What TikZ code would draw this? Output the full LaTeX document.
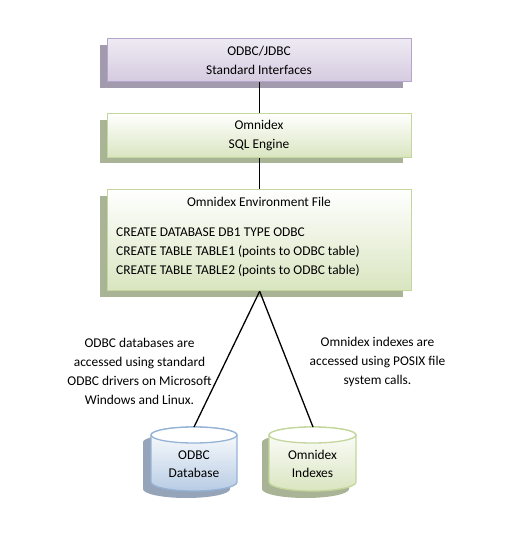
\documentclass[tikz,border=0pt]{standalone}
\usepackage{fontspec}
\setmainfont{Carlito}
\begin{document}
\begin{tikzpicture}[x=1pt,y=-1pt,
  boxbase/.style={rectangle,line width=1.3pt,inner sep=0pt,anchor=north west,shade,shading angle=0},
  purplebox/.style={boxbase,draw=purpleline,top color=white!60!purplefill,bottom color=purplefill},
  greenbox/.style={boxbase,draw=greenline,top color=white,bottom color=greenfill},
  labeltext/.style={font=\fontsize{13.4pt}{19pt}\selectfont,align=center,text=black,inner sep=0pt},
  bodytext/.style={font=\fontsize{13.4pt}{19pt}\selectfont,align=left,text=black,inner sep=0pt,anchor=west},
  link/.style={draw=black,line width=1.3pt},
  cyl/.style={line width=1.3pt}]
\definecolor{purplefill}{HTML}{D5CBE0}
\definecolor{purpleline}{HTML}{B5A5CC}
\definecolor{greenfill}{HTML}{D9E5C0}
\definecolor{greenline}{HTML}{C3D69B}
\definecolor{bluefill}{HTML}{B8CCE4}
\definecolor{blueline}{HTML}{95B3D7}
\definecolor{shpurple}{HTML}{A29BAE}
\definecolor{shgreen}{HTML}{A9B396}
\definecolor{shblue}{HTML}{95A4B8}
\useasboundingbox (0,0) rectangle (525,546);
% shadows
\fill[shpurple] (100,45) rectangle (403,88);
\fill[shgreen] (100,120) rectangle (403,163);
\fill[shgreen] (100,196) rectangle (403,297);
% boxes
\node[purplebox,minimum width=304pt,minimum height=43pt] (odbc) at (107,38) {};
\node[greenbox,minimum width=304pt,minimum height=44pt] (sql) at (107,113) {};
\node[greenbox,minimum width=304pt,minimum height=101pt] (env) at (107,189) {};
\node[labeltext] (t1) at (259,60) {ODBC/JDBC\\Standard Interfaces};
\node[labeltext] (t2) at (259,135.5) {Omnidex\\SQL Engine};
\node[labeltext] (t3) at (259,202) {Omnidex Environment File};
\node[bodytext] (t4) at (116,252) {CREATE DATABASE DB1 TYPE ODBC\\CREATE TABLE TABLE1 (points to ODBC table)\\CREATE TABLE TABLE2 (points to ODBC table)};
% cylinders
\fill[shblue] (143,442) -- (143,489) arc[start angle=180,end angle=0,x radius=43.5,y radius=9] -- (230,442) arc[start angle=0,end angle=-180,x radius=43.5,y radius=8] -- cycle;
\fill[shgreen] (262,442) -- (262,489) arc[start angle=180,end angle=0,x radius=43.5,y radius=9] -- (349,442) arc[start angle=0,end angle=-180,x radius=43.5,y radius=8] -- cycle;
\path[cyl,draw=blueline,top color=white,bottom color=bluefill] (151,435) -- (151,482) arc[start angle=180,end angle=0,x radius=43,y radius=9] -- (237,435) arc[start angle=0,end angle=-180,x radius=43,y radius=8] -- cycle;
\path[cyl,draw=blueline,fill=white] (194,435) ellipse[x radius=43,y radius=8];
\path[cyl,draw=greenline,top color=white,bottom color=greenfill] (269,435) -- (269,482) arc[start angle=180,end angle=0,x radius=43.5,y radius=9] -- (356,435) arc[start angle=0,end angle=-180,x radius=43.5,y radius=8] -- cycle;
\path[cyl,draw=greenline,fill=white] (312.5,435) ellipse[x radius=43.5,y radius=8];
\coordinate (dbtop) at (194,427);
\coordinate (ixtop) at (313,427);
\node[labeltext] (t5) at (194,455) {ODBC};
\node[labeltext] (t6) at (194,473) {Database};
\node[labeltext] (t7) at (312.5,455) {Omnidex};
\node[labeltext] (t8) at (312.5,473) {Indexes};
% connectors
\draw[link] (odbc.south) -- (sql.north);
\draw[link] (sql.south) -- (env.north);
\draw[link] (env.south) -- (dbtop);
\draw[link] (env.south) -- (ixtop);
% labels
\node[labeltext] (l1) at (139.5,371) {ODBC databases are\\accessed using standard\\ODBC drivers on Microsoft\\Windows and Linux.};
\node[labeltext] (l2) at (377.5,361.5) {Omnidex indexes are\\accessed using POSIX file\\system calls.};
\end{tikzpicture}
\end{document}
